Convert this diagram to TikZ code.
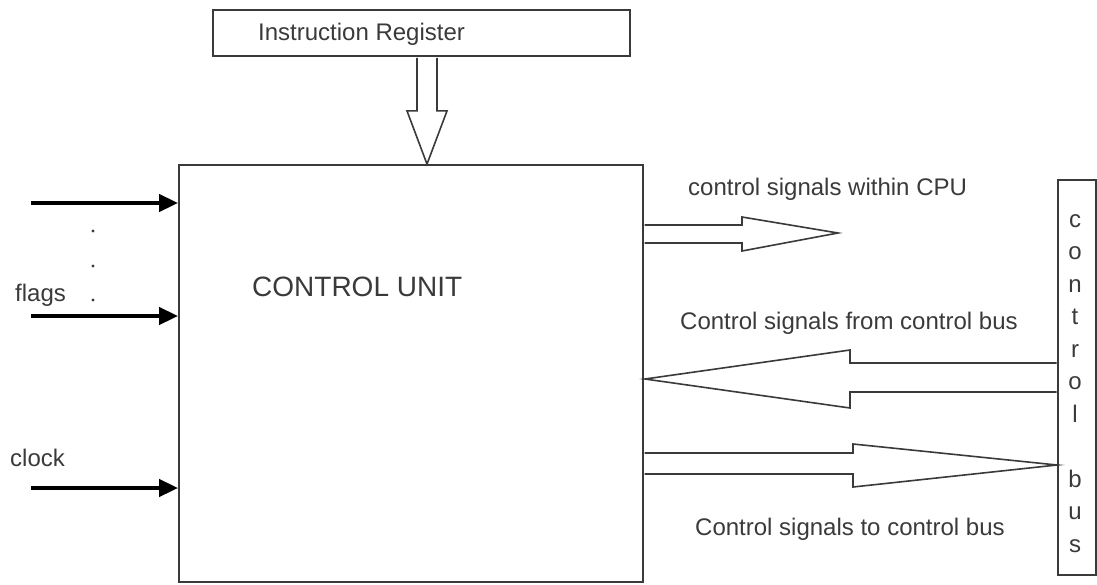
\documentclass[tikz,border=0pt]{standalone}
\usepackage{fontspec}
\setmainfont{Liberation Sans}
\usetikzlibrary{arrows.meta,calc}
\definecolor{ink}{HTML}{3A3A3A}
\begin{document}
\begin{tikzpicture}[x=1pt,y=-1pt,
  box/.style={draw=ink, line width=1.8pt, inner sep=0pt, fill=none},
  lbl/.style={text=ink, font=\fontsize{24}{28}\selectfont, inner sep=0pt},
  biglbl/.style={text=ink, font=\fontsize{28}{32}\selectfont, inner sep=0pt},
  hollow/.style={draw=ink, line width=1.6pt, fill=white, line join=miter},
  inarrow/.style={line width=4pt, black, -{Triangle[length=19pt,width=17pt]}},
  dotmark/.style={fill=ink, draw=none, circle, inner sep=0pt, minimum size=3.2pt}]
\useasboundingbox (0,0) rectangle (1097,584);

% boxes
\node[box, minimum width=417pt, minimum height=46pt] (IR) at (421.5,33) {};
\node[box, minimum width=464pt, minimum height=417pt] (CU) at (411,373.5) {};
\node[box, minimum width=38pt, minimum height=395pt] (bus) at (1077,377.5) {};

% texts
\node[lbl, anchor=base west] (IRtext) at (258,40) {Instruction Register};
\node[biglbl, anchor=base west] (CUtext) at (252,296) {CONTROL UNIT};
\node[lbl, anchor=base west] (t1) at (688,195) {control signals within CPU};
\node[lbl, anchor=base west] (t2) at (680,329) {Control signals from control bus};
\node[lbl, anchor=base west] (t3) at (695,535) {Control signals to control bus};
\node[lbl, anchor=base west] (flags) at (15,301) {flags};
\node[lbl, anchor=base west] (clock) at (10,466) {clock};
\foreach \ch/\k in {c/0,o/1,n/2,t/3,r/4,o/5,l/6,b/8,u/9,s/10}
  \node[lbl, anchor=base] (busch\k) at (1075,{227+32.5*\k}) {\ch};

% vertical ellipsis dots
\node[dotmark] (d1) at (93,231) {};
\node[dotmark] (d2) at (93,266) {};
\node[dotmark] (d3) at (93,300) {};

% input arrows
\coordinate (in1) at (31,203);
\coordinate (in2) at (31,316);
\coordinate (in3) at (31,488);
\draw[inarrow] (in1) -- (in1 -| CU.west);
\draw[inarrow] (in2) -- (in2 -| CU.west);
\draw[inarrow] (in3) -- (in3 -| CU.west);

% hollow arrow: instruction register -> control unit
\coordinate (a0) at ([xshift=5.5pt,yshift=-1pt]IR.south);
\coordinate (b0) at ([xshift=16pt]CU.north);
\draw[hollow] ($(a0)+(-10,0)$) -- ($(a0)+(-10,53)$) -- ($(a0)+(-20,53)$) -- (b0)
  -- ($(a0)+(20,53)$) -- ($(a0)+(10,53)$) -- ($(a0)+(10,0)$);

% hollow arrow: control signals within CPU
\coordinate (e1) at (838,233);
\draw[hollow] (644.5,225) -- (742,225) -- (742,217) -- (e1) -- (742,251) -- (742,243) -- (644.5,243);

% hollow arrow: from control bus
\coordinate (e2) at (645,379);
\draw[hollow] (1056.5,363) -- (850,363) -- (850,350) -- (e2) -- (850,408) -- (850,392) -- (1056.5,392);

% hollow arrow: to control bus
\coordinate (e3) at (1057,465);
\draw[hollow] (644.5,453) -- (853,453) -- (853,444) -- (e3) -- (853,487) -- (853,474) -- (644.5,474);
\end{tikzpicture}
\end{document}
